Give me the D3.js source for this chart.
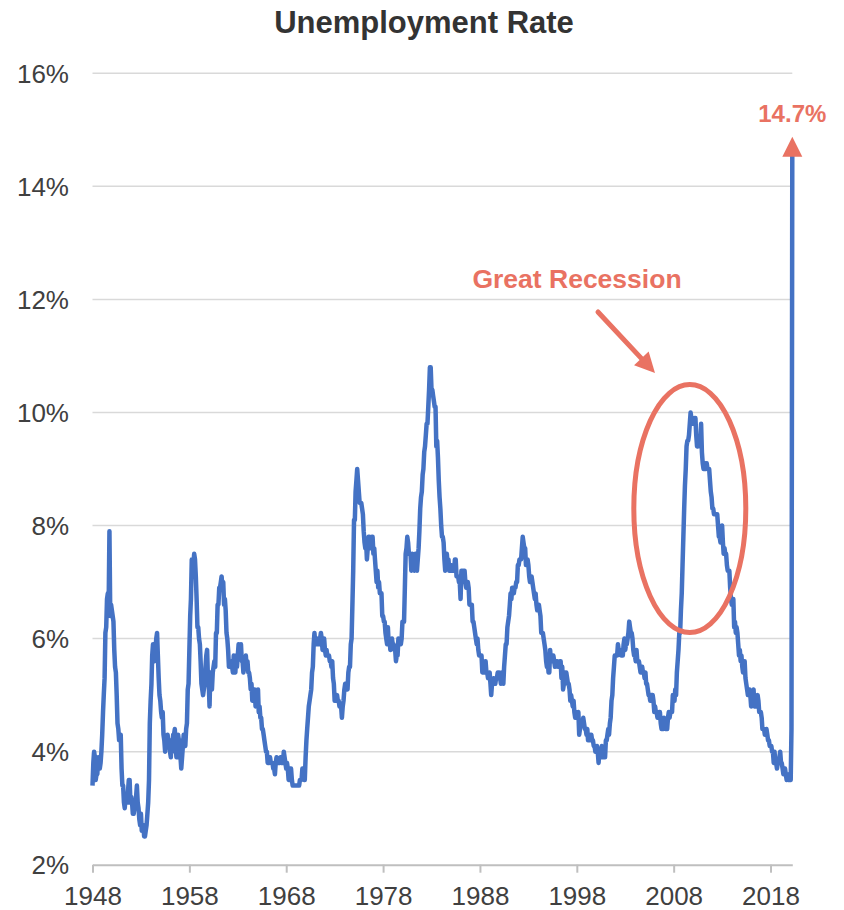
<!DOCTYPE html>
<html>
<head>
<meta charset="utf-8">
<script src="https://cdn.jsdelivr.net/npm/d3@7"></script>
<style>
body { margin: 0; background: #fff; }
svg text { font-family: "Liberation Sans", Arial, sans-serif; }
</style>
</head>
<body>
<svg id="chart" width="844" height="910"></svg>
<script>
//monthly unemployment rate (%), one row per year starting Jan 1948
var startYear = 1948;
var rates = [
    3.4, 3.8, 4.0, 3.9, 3.5, 3.6, 3.6, 3.9, 3.8, 3.7, 3.8, 4.0, //1948
    4.3, 4.7, 5.0, 5.3, 6.1, 6.2, 6.7, 6.8, 6.6, 7.9, 6.4, 6.6, //1949
    6.5, 6.4, 6.3, 5.8, 5.5, 5.4, 5.0, 4.5, 4.4, 4.2, 4.2, 4.3, //1950
    3.7, 3.4, 3.4, 3.1, 3.0, 3.2, 3.1, 3.1, 3.3, 3.5, 3.5, 3.1, //1951
    3.2, 3.1, 2.9, 2.9, 3.0, 3.0, 3.2, 3.4, 3.1, 3.0, 2.8, 2.7, //1952
    2.9, 2.6, 2.6, 2.7, 2.5, 2.5, 2.6, 2.7, 2.9, 3.1, 3.5, 4.5, //1953
    4.9, 5.2, 5.7, 5.9, 5.9, 5.6, 5.8, 6.0, 6.1, 5.7, 5.3, 5.0, //1954
    4.9, 4.7, 4.6, 4.7, 4.3, 4.2, 4.0, 4.2, 4.1, 4.3, 4.2, 4.2, //1955
    4.0, 3.9, 4.2, 4.0, 4.3, 4.3, 4.4, 4.1, 3.9, 3.9, 4.3, 4.2, //1956
    4.2, 3.9, 3.7, 3.9, 4.1, 4.3, 4.2, 4.1, 4.4, 4.5, 5.1, 5.2, //1957
    5.8, 6.4, 6.7, 7.4, 7.4, 7.3, 7.5, 7.4, 7.1, 6.7, 6.2, 6.2, //1958
    6.0, 5.9, 5.6, 5.2, 5.1, 5.0, 5.1, 5.2, 5.5, 5.7, 5.8, 5.3, //1959
    5.2, 4.8, 5.4, 5.2, 5.1, 5.4, 5.5, 5.6, 5.5, 6.1, 6.1, 6.6, //1960
    6.6, 6.9, 6.9, 7.0, 7.1, 6.9, 7.0, 6.6, 6.7, 6.5, 6.1, 6.0, //1961
    5.8, 5.5, 5.6, 5.6, 5.5, 5.5, 5.4, 5.7, 5.6, 5.4, 5.7, 5.5, //1962
    5.7, 5.9, 5.7, 5.7, 5.9, 5.6, 5.6, 5.4, 5.5, 5.5, 5.7, 5.5, //1963
    5.6, 5.4, 5.4, 5.3, 5.1, 5.2, 4.9, 5.0, 5.1, 5.1, 4.8, 5.0, //1964
    4.9, 5.1, 4.7, 4.8, 4.6, 4.6, 4.4, 4.4, 4.3, 4.2, 4.1, 4.0, //1965
    4.0, 3.8, 3.8, 3.8, 3.9, 3.8, 3.8, 3.8, 3.7, 3.7, 3.6, 3.8, //1966
    3.9, 3.8, 3.8, 3.8, 3.8, 3.9, 3.8, 3.8, 3.8, 4.0, 3.9, 3.8, //1967
    3.7, 3.8, 3.7, 3.5, 3.5, 3.7, 3.7, 3.5, 3.4, 3.4, 3.4, 3.4, //1968
    3.4, 3.4, 3.4, 3.4, 3.4, 3.5, 3.5, 3.5, 3.7, 3.7, 3.5, 3.5, //1969
    3.9, 4.2, 4.4, 4.6, 4.8, 4.9, 5.0, 5.1, 5.4, 5.5, 5.9, 6.1, //1970
    5.9, 5.9, 6.0, 5.9, 5.9, 5.9, 6.0, 6.1, 6.0, 5.8, 6.0, 6.0, //1971
    5.8, 5.7, 5.8, 5.7, 5.7, 5.7, 5.6, 5.6, 5.5, 5.6, 5.3, 5.2, //1972
    4.9, 5.0, 4.9, 5.0, 4.9, 4.9, 4.8, 4.8, 4.8, 4.6, 4.8, 4.9, //1973
    5.1, 5.2, 5.1, 5.1, 5.1, 5.4, 5.5, 5.5, 5.9, 6.0, 6.6, 7.2, //1974
    8.1, 8.1, 8.6, 8.8, 9.0, 8.8, 8.6, 8.4, 8.4, 8.4, 8.3, 8.2, //1975
    7.9, 7.7, 7.6, 7.7, 7.4, 7.6, 7.8, 7.8, 7.6, 7.7, 7.8, 7.8, //1976
    7.5, 7.6, 7.4, 7.2, 7.0, 7.2, 6.9, 7.0, 6.8, 6.8, 6.8, 6.4, //1977
    6.4, 6.3, 6.3, 6.1, 6.0, 5.9, 6.2, 5.9, 6.0, 5.8, 5.9, 6.0, //1978
    5.9, 5.9, 5.8, 5.8, 5.6, 5.7, 5.7, 6.0, 5.9, 6.0, 5.9, 6.0, //1979
    6.3, 6.3, 6.3, 6.9, 7.5, 7.6, 7.8, 7.7, 7.5, 7.5, 7.5, 7.2, //1980
    7.5, 7.4, 7.4, 7.2, 7.5, 7.5, 7.2, 7.4, 7.6, 7.9, 8.3, 8.5, //1981
    8.6, 8.9, 9.0, 9.3, 9.4, 9.6, 9.8, 9.8, 10.1, 10.4, 10.8, 10.8, //1982
    10.4, 10.4, 10.3, 10.2, 10.1, 10.1, 9.4, 9.5, 9.2, 8.8, 8.5, 8.3, //1983
    8.0, 7.8, 7.8, 7.7, 7.4, 7.2, 7.5, 7.5, 7.3, 7.4, 7.2, 7.3, //1984
    7.3, 7.2, 7.2, 7.3, 7.2, 7.4, 7.4, 7.1, 7.1, 7.1, 7.0, 7.0, //1985
    6.7, 7.2, 7.2, 7.1, 7.2, 7.2, 7.0, 6.9, 7.0, 7.0, 6.9, 6.6, //1986
    6.6, 6.6, 6.6, 6.3, 6.3, 6.2, 6.1, 6.0, 5.9, 6.0, 5.8, 5.7, //1987
    5.7, 5.7, 5.7, 5.4, 5.6, 5.4, 5.4, 5.6, 5.4, 5.4, 5.3, 5.3, //1988
    5.4, 5.2, 5.0, 5.2, 5.2, 5.3, 5.2, 5.2, 5.3, 5.3, 5.4, 5.4, //1989
    5.4, 5.3, 5.2, 5.4, 5.4, 5.2, 5.5, 5.7, 5.9, 5.9, 6.2, 6.3, //1990
    6.4, 6.6, 6.8, 6.7, 6.9, 6.9, 6.8, 6.9, 6.9, 7.0, 7.0, 7.3, //1991
    7.3, 7.4, 7.4, 7.4, 7.6, 7.8, 7.7, 7.6, 7.6, 7.3, 7.4, 7.4, //1992
    7.3, 7.1, 7.0, 7.1, 7.1, 7.0, 6.9, 6.8, 6.7, 6.8, 6.6, 6.5, //1993
    6.6, 6.6, 6.5, 6.4, 6.1, 6.1, 6.1, 6.0, 5.9, 5.8, 5.6, 5.5, //1994
    5.6, 5.4, 5.4, 5.8, 5.6, 5.6, 5.7, 5.7, 5.6, 5.5, 5.6, 5.6, //1995
    5.6, 5.5, 5.5, 5.6, 5.6, 5.3, 5.5, 5.1, 5.2, 5.2, 5.4, 5.4, //1996
    5.3, 5.2, 5.2, 5.1, 4.9, 5.0, 4.9, 4.8, 4.9, 4.7, 4.6, 4.7, //1997
    4.6, 4.6, 4.7, 4.3, 4.4, 4.5, 4.5, 4.5, 4.6, 4.5, 4.4, 4.4, //1998
    4.3, 4.4, 4.2, 4.3, 4.2, 4.3, 4.3, 4.2, 4.2, 4.1, 4.1, 4.0, //1999
    4.0, 4.1, 4.0, 3.8, 4.0, 4.0, 4.0, 4.1, 3.9, 3.9, 3.9, 3.9, //2000
    4.2, 4.2, 4.3, 4.4, 4.3, 4.5, 4.6, 4.9, 5.0, 5.3, 5.5, 5.7, //2001
    5.7, 5.7, 5.7, 5.9, 5.8, 5.8, 5.8, 5.7, 5.7, 5.7, 5.9, 6.0, //2002
    5.8, 5.9, 5.9, 6.0, 6.1, 6.3, 6.2, 6.1, 6.1, 6.0, 5.8, 5.7, //2003
    5.7, 5.6, 5.8, 5.6, 5.6, 5.6, 5.5, 5.4, 5.4, 5.5, 5.4, 5.4, //2004
    5.3, 5.4, 5.2, 5.2, 5.1, 5.0, 5.0, 4.9, 5.0, 5.0, 5.0, 4.9, //2005
    4.7, 4.8, 4.7, 4.7, 4.6, 4.6, 4.7, 4.7, 4.5, 4.4, 4.5, 4.4, //2006
    4.6, 4.5, 4.4, 4.5, 4.4, 4.6, 4.7, 4.6, 4.7, 4.7, 4.7, 5.0, //2007
    5.0, 4.9, 5.1, 5.0, 5.4, 5.6, 5.8, 6.1, 6.1, 6.5, 6.8, 7.3, //2008
    7.8, 8.3, 8.7, 9.0, 9.4, 9.5, 9.5, 9.6, 9.8, 10.0, 9.9, 9.9, //2009
    9.8, 9.8, 9.9, 9.9, 9.6, 9.4, 9.4, 9.5, 9.5, 9.4, 9.8, 9.3, //2010
    9.1, 9.0, 9.0, 9.1, 9.0, 9.1, 9.0, 9.0, 9.0, 8.8, 8.6, 8.5, //2011
    8.3, 8.3, 8.2, 8.2, 8.2, 8.2, 8.2, 8.0, 7.8, 7.8, 7.7, 7.9, //2012
    8.0, 7.7, 7.5, 7.6, 7.5, 7.5, 7.3, 7.2, 7.2, 7.2, 6.9, 6.7, //2013
    6.6, 6.7, 6.7, 6.2, 6.3, 6.1, 6.2, 6.1, 5.9, 5.7, 5.8, 5.6, //2014
    5.7, 5.5, 5.4, 5.4, 5.6, 5.3, 5.2, 5.1, 5.0, 5.0, 5.1, 5.0, //2015
    4.8, 4.9, 5.0, 5.1, 4.8, 4.9, 4.8, 4.9, 5.0, 4.9, 4.7, 4.7, //2016
    4.7, 4.6, 4.4, 4.4, 4.4, 4.3, 4.3, 4.4, 4.3, 4.2, 4.2, 4.1, //2017
    4.1, 4.1, 4.0, 4.0, 3.8, 4.0, 3.8, 3.8, 3.7, 3.8, 3.8, 3.9, //2018
    4.0, 3.8, 3.8, 3.7, 3.6, 3.6, 3.7, 3.6, 3.5, 3.6, 3.5, 3.5, //2019
    3.6, 3.5, 4.4, 14.7                                         //2020 (Jan-Apr)
];
var yTicks = [2, 4, 6, 8, 10, 12, 14, 16];
var xTickYears = [1948, 1958, 1968, 1978, 1988, 1998, 2008, 2018];
var chartTitle = "Unemployment Rate";
var peakLabel = "14.7%";
var noteText = "Great Recession";
//where the ellipse sits (year, rate)
var noteCenter = [2009.7, 8.3];

var lineColor = "#4472C4",
    noteColor = "#E97262",
    gridColor = "#D9D9D9",
    axisColor = "#BFBFBF",
    textColor = "#404040";

var svg = d3.select("#chart"),
    plotLeft = 92.5, plotRight = 792.3, plotTop = 73.3, plotBottom = 864.7;

var data = rates.map(function (v, i) {
    return { date: new Date(startYear + Math.floor(i / 12), i % 12, 1), value: v };
});
var last = data[data.length - 1];

var x = d3.scaleTime()
    .domain([data[0].date, last.date])
    .range([plotLeft, plotRight]);
var y = d3.scaleLinear()
    .domain([2, 16])
    .range([plotBottom, plotTop]);

function yearX(yr) { //fractional year to pixel
    var y0 = Math.floor(yr);
    return x(new Date(y0, Math.round((yr - y0) * 12), 1));
}

//title
svg.append("text")
    .attr("x", 424).attr("y", 33)
    .attr("text-anchor", "middle")
    .attr("font-size", 31).attr("font-weight", "bold")
    .attr("fill", "#333")
    .text(chartTitle);

//gridlines
svg.append("g").selectAll("line")
    .data(yTicks.filter(function (t) { return t > 2; }))
    .enter().append("line")
    .attr("x1", plotLeft).attr("x2", plotRight)
    .attr("y1", function (d) { return y(d); })
    .attr("y2", function (d) { return y(d); })
    .attr("stroke", gridColor).attr("stroke-width", 1.5);

//y labels
svg.append("g").selectAll("text")
    .data(yTicks)
    .enter().append("text")
    .attr("x", 69)
    .attr("y", function (d) { return y(d); })
    .attr("dy", "0.36em")
    .attr("text-anchor", "end")
    .attr("font-size", 26)
    .attr("fill", textColor)
    .text(function (d) { return d + "%"; });

//x axis
var xAxis = d3.axisBottom(x)
    .tickValues(xTickYears.map(function (yr) { return new Date(yr, 0, 1); }))
    .tickFormat(d3.timeFormat("%Y"))
    .tickSize(8)
    .tickSizeOuter(0)
    .tickPadding(14);
var gx = svg.append("g")
    .attr("transform", "translate(0," + plotBottom + ")")
    .call(xAxis);
gx.select(".domain").attr("stroke", axisColor).attr("stroke-width", 2);
gx.selectAll(".tick line").attr("stroke", axisColor).attr("stroke-width", 2);
gx.selectAll(".tick text")
    .attr("font-size", 26)
    .attr("font-family", "'Liberation Sans', Arial, sans-serif")
    .attr("fill", textColor);

//the series
var line = d3.line()
    .x(function (d) { return x(d.date); })
    .y(function (d) { return y(d.value); });
svg.append("path")
    .datum(data)
    .attr("d", line)
    .attr("fill", "none")
    .attr("stroke", lineColor)
    .attr("stroke-width", 4.5)
    .attr("stroke-linejoin", "round");

//arrow head on the last point + label
var px = x(last.date), py = y(last.value);
svg.append("path")
    .attr("d", "M" + (px - 10) + "," + (py + 10) + "L" + px + "," + (py - 10) + "L" + (px + 10) + "," + (py + 10) + "Z")
    .attr("fill", noteColor);
svg.append("text")
    .attr("x", px).attr("y", py - 25)
    .attr("text-anchor", "middle")
    .attr("font-size", 24).attr("font-weight", "bold")
    .attr("fill", noteColor)
    .text(peakLabel);

//great recession note
var cx = yearX(noteCenter[0]), cy = y(noteCenter[1]);
svg.append("ellipse")
    .attr("cx", cx).attr("cy", cy)
    .attr("rx", 56).attr("ry", 124)
    .attr("fill", "none")
    .attr("stroke", noteColor).attr("stroke-width", 5);

svg.append("text")
    .attr("x", 577).attr("y", 288)
    .attr("text-anchor", "middle")
    .attr("font-size", 26.5).attr("font-weight", "bold")
    .attr("fill", noteColor)
    .text(noteText);

//pointer arrow
var ax1 = 598, ay1 = 312, ax2 = 655, ay2 = 373;
var ang = Math.atan2(ay2 - ay1, ax2 - ax1), hl = 20, hw = 10;
var bx = ax2 - hl * Math.cos(ang), by = ay2 - hl * Math.sin(ang);
svg.append("line")
    .attr("x1", ax1).attr("y1", ay1)
    .attr("x2", bx).attr("y2", by)
    .attr("stroke", noteColor).attr("stroke-width", 5)
    .attr("stroke-linecap", "round");
svg.append("path")
    .attr("d", "M" + ax2 + "," + ay2 +
        "L" + (bx + hw * Math.sin(ang)) + "," + (by - hw * Math.cos(ang)) +
        "L" + (bx - hw * Math.sin(ang)) + "," + (by + hw * Math.cos(ang)) + "Z")
    .attr("fill", noteColor);
</script>
</body>
</html>
